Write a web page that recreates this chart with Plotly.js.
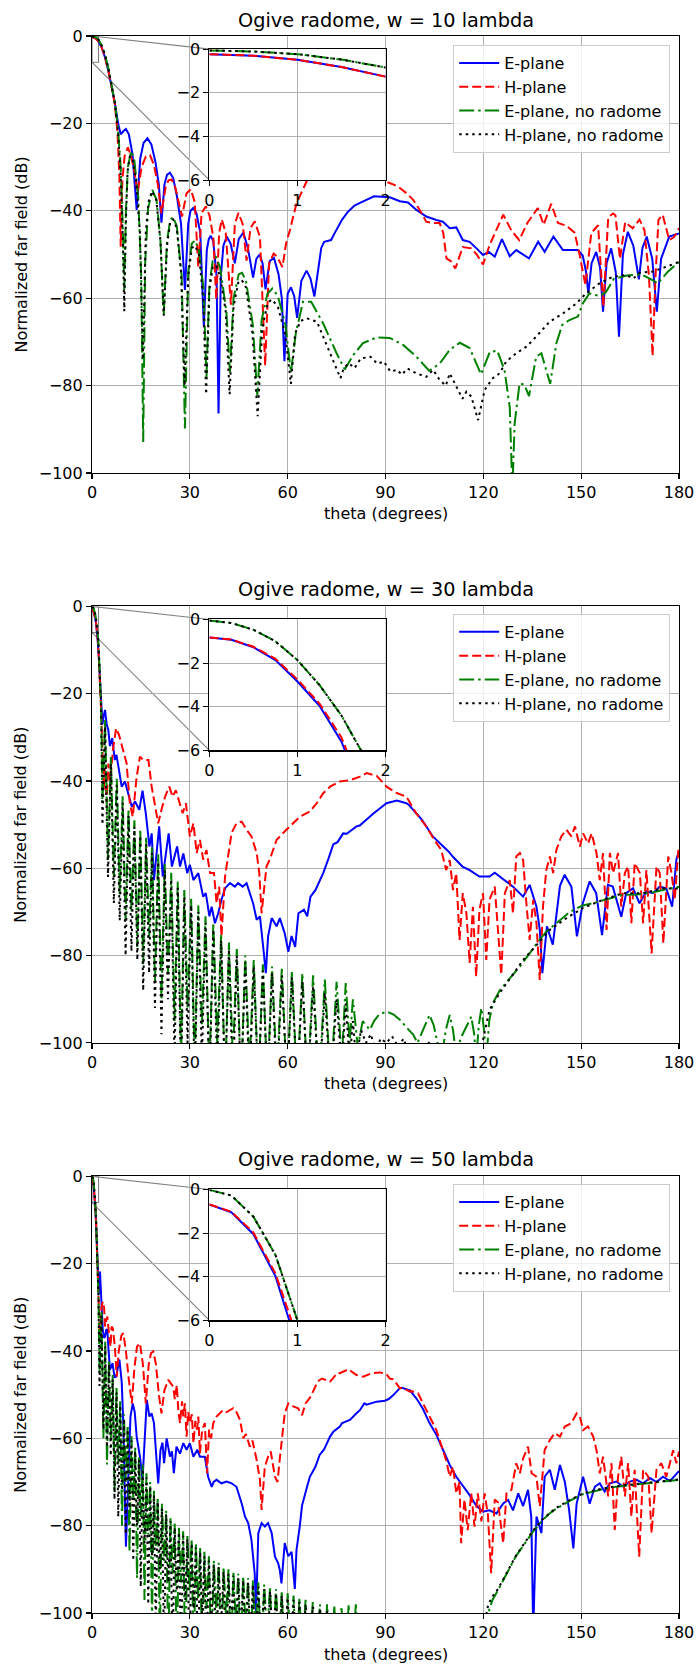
<!DOCTYPE html>
<html>
<head>
<meta charset="utf-8">
<script src="https://cdn.plot.ly/plotly-3.0.1.min.js"></script>
<style>html,body{margin:0;padding:0;background:#fff;}#chart{width:697px;height:1665px;}</style>
</head>
<body>
<div id="chart"></div>
<script>
// ---------------- DATA (theta in degrees, value in dB) ----------------
const thetaTicks = [0, 30, 60, 90, 120, 150, 180];
const dbTicks = [-100, -80, -60, -40, -20, 0];
const insetThetaTicks = [0, 1, 2];
const insetDbTicks = [-6, -4, -2, 0];
const seriesNames = ['E-plane', 'H-plane', 'E-plane, no radome', 'H-plane, no radome'];
const panelTitles = ['Ogive radome, w = 10 lambda', 'Ogive radome, w = 30 lambda', 'Ogive radome, w = 50 lambda'];

// ---- w = 10 lambda ----
const p1_E = [[0,-0.23],[0.5,-0.3],[1,-0.49],[1.5,-0.82],[2,-1.26],[3,-2.7],[4,-4.9],[5,-7.9],[6,-11.3],[7,-15.3],[8,-20],[8.8,-22.5],[9.6,-21.8],[10.4,-21.3],[11.3,-22.5],[12.4,-27],[13.7,-39.8],[14.8,-28],[15.8,-24.5],[17,-23.4],[18.2,-24.8],[19.5,-29],[20.5,-34],[21.3,-42.7],[22.2,-34],[23,-31.8],[23.9,-31.3],[24.9,-32.5],[26,-36.5],[27.3,-43],[28.5,-58.1],[29.5,-43],[30.2,-40],[31.05,-39.4],[32,-40.5],[33.2,-45],[34.3,-66.5],[35.2,-49],[35.8,-46.5],[36.4,-45.7],[37.2,-47],[38.2,-55],[38.8,-86.4],[39.5,-55],[40.3,-48],[41.3,-45.9],[42.5,-47.5],[43.8,-52],[45,-46.5],[46.4,-45],[47.8,-48.5],[49.4,-55.3],[50.4,-51],[51.4,-50],[52.3,-52],[53.2,-58],[54.5,-51.5],[55.8,-50.8],[57.2,-54.5],[58.2,-60],[59,-74.4],[60,-59],[61,-57.5],[62,-59.5],[62.9,-64.5],[64.2,-56],[65.8,-53.7],[67,-55.5],[68.2,-59.6],[69.5,-52],[70.3,-48.5],[71.2,-47.1],[72.3,-46.8],[73.3,-46.7],[74.5,-45],[76.7,-42],[78.5,-40.2],[80.5,-38.8],[82.2,-38.2],[84.2,-37.5],[86.5,-36.7],[88.8,-36.8],[91.3,-36.9],[94.4,-37.8],[96.9,-38.1],[99.5,-39.8],[102.5,-41.3],[105.6,-42.1],[107.6,-42.5],[109.7,-44],[111.7,-43.8],[113.7,-46.7],[115.8,-47.1],[117.9,-48.6],[119.9,-50.1],[121.7,-49.4],[123.5,-50.5],[125.7,-46.5],[128.1,-50.4],[130.1,-49],[132,-50],[134,-50.9],[136.8,-47.1],[138.8,-49.4],[141.5,-45.9],[144.4,-49],[147,-49],[149,-49],[150.5,-50.3],[151.5,-54],[152.2,-58.9],[153.2,-52],[154.6,-49.4],[155.8,-53],[156.7,-63.1],[157.8,-52],[159.2,-48.6],[160.6,-54],[161.6,-68.8],[162.8,-50],[164.3,-44.8],[166,-48],[167.7,-55.7],[168.8,-48.5],[170.1,-45.9],[171.8,-51],[173.2,-63.1],[174.5,-51],[177,-45.9],[179.6,-45.2],[180,-45.2]];
const p1_H = [[0,-0.23],[0.5,-0.3],[1,-0.49],[1.5,-0.82],[2,-1.26],[3,-2.7],[4,-4.9],[5,-7.9],[6,-11.3],[7,-15.5],[7.8,-22],[8.4,-32],[8.8,-48.2],[9.3,-33],[10,-27.5],[11,-25.5],[12,-27.5],[13,-31],[14,-35.8],[15.2,-30],[16.5,-27.6],[17.8,-27.3],[19,-29.5],[20.2,-34],[21.3,-40.6],[22.6,-34.5],[23.5,-33],[24.4,-32.8],[25.5,-34.5],[27.6,-41.3],[29,-36],[30.3,-35.1],[31.5,-38],[32.6,-52.9],[33.6,-40.5],[34.9,-39],[36,-41],[37.2,-46],[38.1,-60.3],[39,-45],[39.8,-42],[41,-45],[42.6,-61.5],[43.8,-43],[44.9,-40.5],[46.2,-43],[47.4,-51.4],[48.6,-44],[49.9,-42.4],[51.5,-46],[53.1,-75.4],[54.3,-52],[55.7,-49.8],[56.8,-50.5],[58.4,-52.9],[59.5,-47.5],[60.7,-44.4],[62.7,-38.3],[65.8,-33.3],[68,-30],[70,-29],[75,-28.5],[80,-29],[85,-30.5],[88,-32],[90.3,-33.4],[92.5,-34],[94.4,-34.8],[96.5,-36],[98.5,-37.5],[100.5,-39.8],[102.5,-42.5],[104.6,-42.8],[106.6,-42.8],[107.7,-45],[108.7,-50.9],[110,-51.5],[111.4,-53.2],[113.7,-48.3],[116.3,-48.6],[118,-50],[119.9,-52.3],[122,-47.7],[124,-44.3],[126.1,-40.9],[128.6,-44.5],[131,-46.7],[133.5,-42.8],[136.7,-39.4],[138.5,-43.2],[140.8,-38.4],[142.9,-42.8],[145.4,-43.4],[148,-45],[149.5,-50],[151.3,-57],[153.1,-45.1],[155.2,-43.3],[156.8,-62],[158.3,-41.5],[159.8,-40.6],[160.5,-41],[161.9,-51],[163.5,-42.6],[165.8,-44],[167.9,-42],[169.4,-44.4],[170.8,-55],[171.9,-73.2],[172.8,-55],[173.7,-42.1],[175,-40.9],[177,-46.7],[178.5,-46],[180,-44]];
const p1_En = [[0,-0.06],[0.5,-0.11],[1,-0.23],[1.5,-0.48],[2,-0.84],[3,-2.2],[4,-4.3],[5,-7.3],[6,-10.9],[7,-15.2],[8,-21.5],[8.8,-30],[9.5,-45],[9.9,-58],[10.4,-40],[11,-30],[12,-26.3],[13,-28.5],[14.2,-37],[15.1,-55],[15.7,-92.9],[16.3,-52],[17.2,-39.5],[18.5,-35.2],[19.8,-37.5],[21,-47],[22,-63.9],[23,-47],[24,-42],[24.9,-41.5],[26,-43.5],[27.5,-55],[28.5,-89.8],[29.5,-54],[30.6,-47.5],[31.6,-46.8],[32.8,-49],[34.2,-58],[35.1,-78],[36,-57],[37,-51.5],[38,-50.5],[39.3,-53],[41.2,-63],[42.3,-77],[43.4,-60],[45,-54.5],[46,-54.2],[47.2,-56],[49.3,-66],[50.7,-82.3],[52,-65],[53.8,-59],[55.3,-57.8],[57,-59.5],[59.3,-66],[61,-77],[62.5,-68],[64.7,-60.8],[67.2,-60.8],[70.9,-65.8],[75,-72.6],[77.5,-76.3],[80.1,-73],[83.1,-70.3],[87.2,-69],[91.3,-69.1],[95.4,-70.7],[99.5,-73.4],[103.4,-76.6],[106.6,-75],[109.7,-71.8],[112.8,-70.2],[115.8,-71.4],[119.3,-77.4],[122,-72.3],[124.3,-72],[126.5,-76.5],[128.1,-84.9],[128.9,-104],[129.6,-88.7],[131.1,-79.5],[132.6,-79.8],[134,-82.4],[136.2,-73.4],[137.8,-72.6],[140.5,-79.6],[142.4,-70.3],[144.2,-66.1],[146.4,-65],[149,-64.2],[150.5,-61.2],[152.5,-58.9],[155.6,-59.5],[157.5,-58.7],[160,-55.6],[164,-54.8],[168.5,-54.6],[171.5,-55.7],[173.5,-56.6],[176.5,-54],[180,-51.7]];
const p1_Hn = [[0,-0.06],[0.5,-0.11],[1,-0.23],[1.5,-0.48],[2,-0.84],[3,-2.2],[4,-4.3],[5,-7.3],[6,-10.9],[7,-15.3],[8,-22],[8.8,-32],[9.5,-48],[9.9,-63],[10.4,-42],[10.9,-31],[11.6,-27.5],[12.5,-28.5],[13.5,-33],[14.7,-45],[15.6,-74],[16.5,-45],[17.3,-38],[18.4,-35.5],[19.7,-37.5],[21,-47],[22,-64],[23,-48],[24,-42.5],[24.9,-42],[26,-44],[27.3,-54],[28.4,-80],[29.5,-55],[30.6,-48.5],[31.6,-48],[32.8,-50],[34.1,-60],[35,-82],[36,-58],[37,-53],[38,-52.4],[39.3,-55],[41,-63],[42.2,-82],[43.4,-62],[44.8,-56.5],[45.9,-55.8],[47.2,-57.5],[49.2,-68],[50.8,-87],[52.2,-67],[53.9,-61],[55.2,-60.3],[57,-62],[59.2,-68],[61,-79.6],[62.3,-68],[64,-65.2],[65.9,-64.6],[69,-65.4],[73.1,-72.6],[76.2,-78.3],[77.2,-76],[78.8,-74.9],[80.5,-76],[82.4,-73.8],[85.4,-73.4],[87.5,-75],[89.5,-74.5],[91.5,-76.8],[93.6,-76.4],[95,-77.5],[96.7,-76.1],[99.5,-77.2],[102.5,-78],[104.6,-76.4],[106.6,-78.7],[108.5,-80],[109.7,-77.2],[112.2,-81],[113.6,-83],[114.8,-81.4],[116.3,-82.5],[118.4,-87.9],[120.4,-81],[122.9,-78.3],[125,-77.2],[127,-74.5],[130.1,-72.6],[133.2,-71.1],[136.2,-68.8],[140.3,-65.4],[144.4,-63.5],[148.5,-61.2],[151.5,-58.9],[155.6,-56.6],[159.7,-55.1],[163.8,-54.7],[166,-55.5],[167.9,-54.2],[172,-53.9],[176.1,-52.8],[180,-51.7]];

// ---- w = 30 lambda ----
const p2_E = [[0,-0.82],[0.25,-0.93],[0.5,-1.27],[0.75,-1.86],[1,-2.84],[1.25,-3.95],[1.5,-5.6],[1.75,-7.8],[2,-10.6],[2.4,-16],[2.8,-22],[3.2,-27],[3.6,-25],[4.0,-23.7],[4.5,-27],[5,-28.3],[5.5,-32],[6.2,-30.2],[7,-35.2],[7.5,-34],[8.1,-36.7],[9.1,-41.3],[10.1,-40.1],[11.1,-42.8],[12.2,-45.9],[13.2,-44.7],[14.5,-46.6],[15.5,-42.2],[16.5,-47.4],[17.6,-55],[18.3,-52],[19,-62.7],[20.6,-50.4],[21.7,-61.9],[23.5,-52],[24.5,-59.6],[26.1,-55],[27,-59.6],[28,-56.6],[29.2,-61.1],[30,-59.2],[31.1,-62.7],[32.6,-61.1],[34.1,-66.5],[34.9,-65.7],[36,-71],[36.7,-68.8],[37.7,-72.6],[38.7,-70.3],[39.7,-67.2],[40.8,-64.6],[42.3,-63.4],[43.8,-64.2],[44.8,-63.4],[46.2,-64.2],[47.4,-63.4],[48.4,-65.7],[49.4,-68],[50.5,-71.8],[51.5,-71],[52.7,-79.5],[53.3,-84],[54,-75.6],[55.1,-71.4],[56.6,-73.3],[57.6,-71.4],[59.1,-74.9],[60.2,-79.1],[61.2,-75.5],[62.3,-78],[63.3,-70.3],[65,-69.5],[66,-71],[67,-66.5],[68.5,-65],[70.9,-61.1],[72.6,-57.6],[74,-54.5],[75.3,-54],[77,-52],[78.1,-52.1],[81.1,-50.4],[82.1,-50.2],[85.2,-48.2],[86.2,-47.5],[90.3,-45.1],[93.5,-44.5],[96.4,-45.1],[97.2,-45.5],[100.4,-48.2],[101.3,-49],[104.5,-52.7],[106,-53.7],[107.6,-55],[109.4,-56.2],[110.6,-57.3],[113.6,-59.6],[115.8,-60.4],[118.8,-61.9],[121.9,-61.9],[123.5,-61],[126.1,-62.5],[128.5,-63.8],[129.1,-64.2],[132.2,-66.5],[134.2,-63.8],[136.3,-68.8],[137.3,-74],[138.1,-84],[139.5,-73.3],[141.3,-77.5],[142.4,-70.3],[143.5,-64],[144.9,-61.5],[147,-64.2],[148.7,-75.6],[150.5,-68],[152.6,-63],[154.6,-65.7],[156.4,-75.3],[158.2,-63.8],[159.7,-64.2],[162.3,-71.1],[163.8,-65.7],[165.9,-64.6],[167.9,-68],[170,-65.3],[172,-65.7],[174.1,-64.2],[176.1,-64.6],[177.9,-68.8],[179.2,-58],[180,-56]];
const p2_H = [[0,-0.82],[0.25,-0.92],[0.5,-1.25],[0.75,-1.8],[1,-2.75],[1.25,-3.85],[1.5,-5.4],[1.75,-7.6],[2,-10.5],[2.4,-16.5],[2.8,-24],[3.2,-33],[3.6,-42],[4.0,-37],[4.5,-45],[5,-36],[5.6,-40],[6.4,-33],[7.4,-27.9],[8.3,-29.5],[9.6,-32.9],[10.6,-35.9],[11.6,-45.1],[12.5,-48.2],[13.7,-39],[14.7,-34.4],[15.7,-35.2],[17.3,-35.2],[18.3,-41.3],[19.3,-45.9],[20.3,-49.7],[21.3,-46.6],[22.4,-43.6],[23.7,-41.3],[24.7,-43.6],[25.7,-42.1],[26.8,-44.7],[27.8,-47.4],[28.8,-45.1],[30,-52.7],[31.1,-49.7],[32.1,-56.5],[33.1,-53.5],[34.1,-58],[35.1,-55.8],[36.2,-61.1],[37.4,-61.1],[38.2,-68],[39,-64.2],[39.7,-75.6],[40.8,-61.9],[41.8,-56.5],[42.8,-51.9],[44.3,-49.7],[45.9,-49.3],[47.4,-51.2],[48.9,-52.7],[50.5,-56.5],[51.3,-61.1],[52,-70.3],[52.7,-65.7],[53.5,-59.6],[54.5,-58],[55.6,-55.8],[56.6,-53.5],[58.6,-51.9],[60.7,-50.4],[63.7,-48.2],[66.8,-47],[68.9,-45.1],[70.9,-42.8],[73,-41.3],[76,-40.1],[79.1,-39.8],[82.2,-39],[84.2,-38.2],[87.3,-38.8],[90.3,-41.3],[93.3,-42.7],[96.4,-43.6],[99.4,-47.4],[102.5,-50.4],[105,-53.5],[107.1,-55.8],[108.6,-60.4],[109.7,-58.1],[110.7,-65],[111.7,-61.1],[112.7,-76.4],[113.7,-65.7],[114.8,-70.3],[115.8,-81.7],[116.8,-68.8],[117.8,-84.8],[118.8,-69.5],[119.9,-65.7],[120.9,-81],[121.9,-67.2],[123.5,-64.2],[124.5,-74.9],[125.5,-84.4],[126.6,-65.7],[128.1,-62.7],[129.1,-70.3],[130.1,-57.3],[131.2,-56.5],[132.2,-58.1],[133.2,-68],[134.2,-76.4],[135.3,-67.2],[136.3,-72.6],[137.3,-85.6],[138.3,-68.8],[139.3,-60.4],[140.4,-57.3],[141.4,-61.1],[142.4,-55.8],[143.9,-52.7],[145.5,-51.2],[147,-52.7],[148.1,-50.4],[149.6,-55],[150.6,-52],[152.1,-54.3],[153.2,-52],[154.7,-56.5],[155.7,-62.7],[156.7,-56.5],[157.8,-74.1],[158.8,-56.5],[159.8,-61.1],[161.3,-56.5],[162.3,-68.8],[163.4,-61.1],[164.4,-59.6],[165.4,-72.6],[166.4,-58.8],[168,-61.1],[169,-72.6],[170,-60.4],[171.6,-79.5],[173.1,-59.6],[174.1,-61.1],[175.2,-77.2],[176.7,-57.3],[177.7,-61.1],[178.7,-67.2],[179.8,-55.8],[180,-56]];
const p2_En = [[0,-0.05],[0.25,-0.16],[0.5,-0.47],[0.75,-1.0],[1,-1.86],[1.25,-3.0],[1.5,-4.4],[1.75,-6.2],[2,-8.7],[2.4,-14.5],[2.8,-23],[3.2,-45],[4.0,-26],[4.9,-58],[5.8,-34.5],[6.7,-62],[7.6,-39.5],[8.5,-66],[9.4,-43.5],[10.3,-72],[11.2,-46.5],[12.1,-70],[13.0,-49],[13.9,-78],[14.8,-51],[15.7,-82],[16.6,-53],[17.5,-76],[18.4,-55],[19.3,-86],[20.3,-56.8],[21.3,-90],[22.3,-59],[23.3,-84],[24.3,-61],[25.3,-95],[26.3,-63],[27.3,-104],[28.3,-65],[29.3,-92],[30.4,-67],[31.5,-106],[32.6,-68.5],[33.7,-96],[34.8,-71],[36.0,-108],[37.2,-72.5],[38.4,-100],[39.6,-75],[40.8,-110],[42.0,-77],[43.2,-104],[44.4,-78.5],[45.7,-110],[47.0,-80],[48.3,-106],[49.6,-81],[51.0,-110],[52.4,-82],[53.8,-110],[55.2,-82.5],[56.7,-108],[58.2,-83],[59.8,-110],[61.3,-83.5],[62.9,-110],[64.5,-84],[66.1,-110],[67.8,-84.5],[69.6,-110],[71.4,-85.5],[73.2,-110],[75.0,-86],[76.6,-104],[77.8,-86.3],[79.0,-100],[80.0,-90],[81.5,-101],[83,-95],[85.2,-97],[86.5,-95],[88,-93.5],[90.3,-92.8],[92.5,-93.5],[94.4,-94.7],[96.5,-96.5],[98.5,-98.1],[99.8,-100],[101.5,-97],[103.5,-93.6],[104.8,-96],[105.8,-100],[107.1,-104],[108.5,-97],[109.7,-93.6],[110.7,-97],[111.7,-103],[113,-99],[114.8,-96.2],[116.3,-94],[117.2,-98],[117.8,-104],[118.6,-96],[119.4,-92],[120.2,-97],[120.9,-104],[121.8,-95],[122.9,-90.9],[125,-88],[128.1,-85.2],[131.2,-82.5],[134.2,-79.5],[136.8,-76.8],[139.3,-74.5],[142.4,-72.6],[146.5,-70],[150.5,-68.5],[154.6,-67.8],[158.7,-66.9],[162.8,-66.1],[166.9,-66],[170.9,-65.7],[175,-65],[180,-64.2]];
const p2_Hn = [[0,-0.05],[0.25,-0.16],[0.5,-0.47],[0.75,-1.0],[1,-1.86],[1.25,-3.0],[1.5,-4.4],[1.75,-6.2],[2,-8.7],[2.4,-14.5],[2.8,-23],[3.2,-50],[4.0,-27.5],[4.9,-62],[5.8,-36],[6.7,-68],[7.6,-41],[8.5,-72],[9.4,-45],[10.3,-80],[11.2,-48],[12.1,-79],[13.0,-50.5],[13.9,-81],[14.8,-52.5],[15.7,-88],[16.6,-54.5],[17.5,-84],[18.4,-56.5],[19.3,-92],[20.3,-58.5],[21.3,-98],[22.3,-60.5],[23.3,-90],[24.3,-62.5],[25.3,-104],[26.3,-64.5],[27.3,-110],[28.3,-66.5],[29.3,-100],[30.4,-68.5],[31.5,-110],[32.6,-70],[33.7,-104],[34.8,-72.5],[36.0,-110],[37.2,-74],[38.4,-106],[39.6,-76.5],[40.8,-110],[42.0,-78.5],[43.2,-110],[44.4,-80],[45.7,-110],[47.0,-81.5],[48.3,-110],[49.6,-82.5],[51.0,-110],[52.4,-83.5],[53.8,-110],[55.2,-84],[56.7,-110],[58.2,-84.5],[59.8,-110],[61.3,-85],[62.9,-110],[64.5,-86],[66.1,-110],[67.8,-87],[69.6,-110],[71.4,-88.5],[73.2,-110],[75.0,-90],[76.6,-106],[77.8,-91],[79.0,-104],[80.0,-95],[81,-104],[82.5,-97],[84,-100],[85.5,-98],[87,-102],[88.5,-99],[90.3,-100],[92,-98.5],[94,-101],[95.5,-99],[97,-102],[99,-100.5],[101,-104],[103,-99.5],[105,-103],[107,-100],[109,-104],[111,-101],[113,-105],[115,-102],[117,-104],[118.5,-101],[119.9,-99.3],[121.9,-92.4],[125,-88.6],[128.1,-85.2],[132.2,-81],[136.3,-77.6],[140.4,-74.1],[145.5,-71.4],[150.5,-69.1],[156.7,-67.2],[162.8,-65.7],[168.9,-65.7],[175,-64.6],[180,-64.6]];

// ---- w = 50 lambda ----
const p3_E = [[0,-0.69],[0.25,-1.05],[0.5,-2.05],[0.75,-3.97],[1,-7.2],[1.25,-11],[1.5,-16],[1.8,-23],[2.1,-27],[2.45,-21.8],[2.8,-27],[3.3,-35.2],[3.7,-37],[4,-36.7],[4.4,-35],[4.7,-35.2],[5.1,-40],[5.5,-44.3],[6.3,-42.8],[6.9,-46],[7.4,-45.9],[8.4,-42],[9.1,-47],[9.6,-56.5],[10.4,-84.8],[11.1,-67.2],[11.8,-55],[12.5,-52],[13.1,-54],[13.7,-59.6],[14.7,-64.2],[15.5,-69.5],[16.2,-58.1],[16.8,-51.2],[17.6,-55],[18.3,-54.3],[19,-56.5],[19.8,-64.2],[20.3,-70.3],[21,-62.7],[21.6,-61],[22.1,-65.7],[22.9,-60],[23.9,-64.2],[24.5,-63],[25.1,-68],[25.9,-61.9],[27,-63.5],[28,-61.1],[29,-62.6],[30,-61.1],[31.1,-64.2],[32.3,-62.6],[33.1,-64.2],[34.6,-64.2],[35.6,-68.8],[36.7,-71.1],[37.3,-70],[38.2,-69.5],[39.7,-70.3],[41.3,-69.9],[42.8,-70.3],[44.3,-71.1],[45.9,-74.9],[46.9,-77.9],[47.9,-79.4],[48.9,-83.3],[49.9,-91],[50.3,-100],[51,-81.7],[52,-79.4],[53,-80.2],[54,-79.4],[55.1,-81.7],[56.1,-87.1],[57.1,-88.6],[57.6,-90.2],[58.1,-93.2],[59.1,-84],[60.2,-87],[61.2,-86],[62.2,-94.5],[62.7,-85.6],[63.7,-80.2],[64.4,-75.4],[65.8,-71.5],[66.8,-68.8],[68.5,-66.5],[69.8,-63.8],[71.2,-62.5],[73,-59.6],[74,-58.5],[76,-57.3],[76.7,-56.5],[79.1,-55.8],[80.8,-54.5],[82.2,-53.5],[83.5,-52],[84.2,-52.3],[87.3,-51.6],[89.8,-51.4],[91,-51],[92.4,-50.1],[94.4,-48.5],[95,-48.4],[97.5,-49],[99.6,-51],[101.5,-53.3],[103.5,-56.5],[105.6,-59.2],[107.6,-62.7],[109.7,-66.1],[111.7,-68.8],[113.7,-70.8],[115.8,-73],[117.8,-75.4],[119.9,-76.8],[121.9,-76.5],[124,-77.2],[126.1,-74.9],[127.6,-74.1],[129.1,-76.5],[130.7,-72.6],[132.2,-75.5],[133.7,-71.8],[134.7,-78],[135.3,-104],[136.3,-77.9],[137.8,-81.7],[138.8,-68.8],[140.4,-67.2],[141.9,-71.8],[143.5,-66.1],[145,-70],[146.3,-76.4],[147.6,-85.2],[148.6,-75],[150.6,-68.8],[152.6,-75],[154.2,-71.1],[155.7,-70.3],[157.2,-72.2],[158.8,-70.3],[160.8,-69.9],[162.9,-71.1],[164.9,-69.9],[167,-69.5],[169,-70.3],[171.1,-69.1],[173.1,-70],[175.1,-68.8],[177.2,-69.8],[179.2,-68],[180,-67.5]];
const p3_H = [[0,-0.69],[0.25,-1.02],[0.5,-1.98],[0.75,-3.85],[1,-6.8],[1.25,-10.5],[1.5,-16],[1.8,-22],[2.1,-30],[2.45,-38],[2.9,-30],[3.3,-28.7],[3.7,-30],[4,-34.4],[4.4,-33],[4.7,-32.1],[5.3,-36.7],[5.7,-39],[6,-34.4],[6.4,-34.8],[7,-39],[7.6,-45.9],[8.2,-40],[9,-36.5],[9.6,-35.9],[10.4,-40],[11.2,-46],[12.2,-52],[13,-44],[13.8,-39],[14.7,-38.2],[15.6,-43],[16.5,-52],[17.4,-43],[18.1,-40.5],[18.8,-40.1],[19.6,-43],[20.5,-50],[21.3,-54.3],[22.2,-49],[23.4,-46.6],[24.9,-48.2],[25.4,-51],[26,-47.8],[26.5,-54],[27,-56.5],[27.6,-51.5],[28,-55],[28.5,-52],[29,-59.6],[29.5,-54],[30,-56.5],[30.6,-54.5],[31.1,-61.1],[31.7,-56],[32.2,-58],[32.6,-55],[33.1,-63.4],[33.8,-58],[34.6,-56.5],[35.3,-68],[35.9,-58],[36.5,-60],[37.2,-56.5],[38.2,-55],[39.2,-54.3],[40.2,-53.5],[41.3,-54],[42.3,-53.5],[43.3,-53.1],[44.3,-54],[45.4,-55.8],[46.4,-60],[47.2,-59],[48.4,-61.9],[49.2,-60.5],[50.5,-65],[51.5,-69.5],[52,-76.4],[53,-66.5],[54,-64.2],[54.8,-63],[56.1,-68.8],[56.9,-70],[57.4,-66],[58.1,-61.1],[59.1,-54.3],[60.2,-52],[61.7,-52.7],[63.2,-53.1],[64.4,-54.7],[65.5,-52],[67.1,-50.4],[69.2,-47],[70.5,-46.3],[73,-47],[75.3,-45],[76,-45.1],[78.6,-44.2],[81.1,-45.5],[83.2,-45.9],[85.7,-45.1],[88.3,-44.9],[90.3,-45.3],[91.3,-46.3],[92.4,-46.5],[94.4,-48.5],[95.1,-48.4],[97.5,-49.3],[98,-49.2],[100,-49.7],[101.5,-52],[103.5,-55],[105.6,-58.1],[107.6,-62.7],[108.6,-65],[109.7,-68.8],[110.7,-66.5],[111.7,-72.6],[112.7,-70],[113.2,-84],[114.2,-74],[115.2,-81],[116.3,-72.6],[117.3,-80.2],[118.3,-72.6],[119.4,-79],[120.4,-72.6],[121.4,-77.5],[122.4,-90.9],[123.5,-74],[124.5,-74.7],[126.1,-84],[127.1,-72.6],[128.6,-71.8],[130.1,-65.7],[131.2,-68],[132.2,-64.6],[133.7,-61.9],[134.8,-68],[136.3,-68.8],[137.3,-75.6],[138.8,-62.7],[140.4,-60.4],[141.9,-58.8],[143.5,-59.6],[145,-57.3],[147,-56.5],[148.6,-54.3],[149.6,-55],[150.6,-58.1],[152.1,-57.3],[153.7,-59.6],[154.7,-62.7],[155.7,-68],[156.7,-64.2],[158.3,-73.3],[159.3,-65.7],[160.3,-81],[161.3,-68.8],[162.3,-64.2],[163.4,-73.3],[164.4,-65.7],[165.4,-77.9],[166.4,-67.2],[167.8,-87.1],[169,-67.2],[170.6,-68.8],[171.6,-81.7],[173.1,-67.2],[174.6,-65.7],[176.1,-68.8],[177.2,-65.7],[178.2,-62.7],[179.2,-65.7],[180,-63]];
const p3_En = [[0,-0.02],[0.25,-0.28],[0.5,-1.25],[0.75,-3.0],[1,-6.0],[1.25,-10],[1.5,-15],[1.75,-21],[2.0,-28],[2.3,-45],[2.9,-31],[3.5,-60],[4.05,-37.5],[4.6,-66],[5.2,-42],[5.75,-60],[6.35,-45.5],[6.9,-72],[7.5,-48.5],[8.05,-66],[8.65,-51.5],[9.2,-80],[9.8,-54.5],[10.35,-70],[10.95,-57],[11.5,-86],[12.1,-59.5],[12.65,-74],[13.25,-62],[13.8,-92],[14.4,-64],[14.95,-78],[15.55,-66],[16.1,-97],[16.7,-68],[17.25,-82],[17.85,-70],[18.4,-102],[19.0,-72],[19.55,-85],[20.15,-73.5],[20.8,-106],[21.45,-75],[22.1,-88],[22.75,-76.5],[23.4,-110],[24.05,-78],[24.7,-91],[25.35,-79.5],[26.0,-112],[26.65,-80.5],[27.3,-93],[27.95,-81.3],[28.6,-112],[29.25,-82],[29.9,-95],[30.55,-83],[31.2,-112],[31.85,-84],[32.5,-97],[33.15,-85],[33.8,-112],[34.45,-86],[35.1,-99],[35.85,-87],[36.6,-112],[37.35,-88],[38.1,-100],[38.85,-88.5],[39.6,-112],[40.35,-89.5],[41.1,-101],[41.85,-90],[42.6,-112],[43.35,-90.5],[44.1,-102],[44.85,-91],[45.6,-112],[46.35,-91.5],[47.1,-103],[47.85,-92],[48.6,-112],[49.35,-92.5],[50.1,-104],[51.0,-93],[51.9,-112],[52.8,-93.5],[53.7,-105],[54.6,-94],[55.5,-112],[56.4,-94.5],[57.3,-106],[58.2,-95],[59.1,-112],[60.0,-95.5],[60.9,-107],[61.8,-96],[62.7,-112],[63.6,-96.5],[64.5,-108],[65.5,-97],[66.6,-112],[67.7,-97.5],[68.8,-110],[69.9,-98],[71.0,-112],[72.1,-98],[73.2,-112],[74.3,-98.5],[75.4,-112],[76.5,-98.5],[77.6,-112],[78.7,-98],[79.8,-112],[80.9,-98],[82.0,-112],[83,-130],[119,-130],[120.5,-104],[121.7,-99.6],[122.8,-97],[124.5,-94.8],[127.2,-91],[129.9,-87.1],[132.6,-84.2],[135.4,-81.2],[138.1,-78.8],[140,-77.4],[142.2,-76.2],[146.3,-74.4],[150.4,-72.8],[154.5,-72],[158.6,-71.3],[162.7,-70.9],[168.1,-70.5],[173.6,-70],[180,-69.5]];
const p3_Hn = [[0,-0.02],[0.25,-0.28],[0.5,-1.25],[0.75,-3.0],[1,-6.0],[1.25,-10],[1.5,-15],[1.75,-21],[2.0,-28],[2.3,-48],[2.9,-32],[3.5,-58],[4.05,-39],[4.6,-62],[5.2,-43],[5.75,-64],[6.35,-46.5],[6.9,-74],[7.5,-49.5],[8.05,-78],[8.65,-52.5],[9.2,-72],[9.8,-55.5],[10.35,-82],[10.95,-58],[11.5,-76],[12.1,-60.5],[12.65,-88],[13.25,-63],[13.8,-80],[14.4,-65],[14.95,-94],[15.55,-67],[16.1,-84],[16.7,-69],[17.25,-98],[17.85,-71],[18.4,-87],[19.0,-73],[19.55,-104],[20.15,-74.5],[20.8,-90],[21.45,-76],[22.1,-108],[22.75,-77.5],[23.4,-93],[24.05,-79],[24.7,-110],[25.35,-80.5],[26.0,-95],[26.65,-81.5],[27.3,-112],[27.95,-82.3],[28.6,-97],[29.25,-83],[29.9,-112],[30.55,-84],[31.2,-99],[31.85,-85],[32.5,-112],[33.15,-86],[33.8,-101],[34.45,-87],[35.1,-112],[35.85,-88],[36.6,-102],[37.35,-89],[38.1,-112],[38.85,-89.5],[39.6,-103],[40.35,-90.5],[41.1,-112],[41.85,-91],[42.6,-104],[43.35,-91.5],[44.1,-112],[44.85,-92],[45.6,-105],[46.35,-92.5],[47.1,-112],[47.85,-93],[48.6,-106],[49.35,-93.5],[50.1,-112],[51.0,-94],[51.9,-107],[52.8,-94.5],[53.7,-112],[54.6,-95],[55.5,-108],[56.4,-95.5],[57.3,-112],[58.2,-96],[59.1,-109],[60.0,-96.5],[60.9,-112],[61.8,-97],[62.7,-110],[63.6,-97.5],[64.5,-112],[65.5,-98],[66.6,-112],[67.7,-98.5],[68.8,-112],[69.9,-99],[71.0,-112],[72.1,-99.5],[73.2,-115],[74,-130],[119,-130],[120.8,-101],[121.5,-98],[123,-96],[124.5,-94.5],[127.2,-90.8],[129.9,-87],[132.6,-84],[135.4,-81],[138.1,-78.6],[142.2,-76],[146.3,-74.2],[150.4,-72.7],[154.5,-71.8],[158.6,-71.2],[162.7,-70.8],[168.1,-70.4],[173.6,-69.9],[180,-69.4]];

const panelSeries = [[p1_E, p1_H, p1_En, p1_Hn], [p2_E, p2_H, p2_En, p2_Hn], [p3_E, p3_H, p3_En, p3_Hn]];

// ---------------- STYLE / LAYOUT ----------------
const FONT = 'DejaVu Sans, Liberation Sans, sans-serif';
const styles = [
  {color: '#0000ff', dash: 'solid'},
  {color: '#ff0000', dash: '9px,4px'},
  {color: '#008000', dash: '15px,4px,2.5px,4px'},
  {color: '#000000', dash: '2.5px,4px'}
];
// plot area: l=92, r=17.5, t=36, b=52 -> 587.5 x 1577
const mainDomains = [[0.7229, 1.0], [0.3615, 0.6383], [0.0, 0.2769]];
const insetX = [0.2, 0.5];
const insetFrac = [0.67, 0.97];
const legendTops = [0.9943, 0.6335, 0.2720];
const titleY = [1.0099, 0.6489, 0.2873];
const xTitleY = [0.6972, 0.3357, -0.0260];

const traces = [];
const layout = {
  width: 697, height: 1665,
  margin: {l: 92, r: 17.5, t: 36, b: 52, pad: 0},
  paper_bgcolor: '#ffffff', plot_bgcolor: '#ffffff',
  font: {family: FONT, size: 16, color: '#000000'},
  showlegend: true,
  annotations: [], shapes: []
};

function axisCommon() {
  return {
    showline: true, mirror: true, linecolor: '#000000', linewidth: 1.1,
    ticks: 'outside', ticklen: 5, tickwidth: 1.1, tickcolor: '#000000',
    showgrid: true, gridcolor: '#b0b0b0', gridwidth: 1,
    zeroline: false, tickfont: {family: FONT, size: 16, color: '#000000'},
    fixedrange: true
  };
}

for (let p = 0; p < 3; p++) {
  const mi = 2 * p + 1, ii = 2 * p + 2;
  const mx = 'x' + (mi === 1 ? '' : mi), my = 'y' + (mi === 1 ? '' : mi);
  const ix = 'x' + ii, iy = 'y' + ii;
  const lgName = p === 0 ? 'legend' : 'legend' + (p + 1);
  const d = mainDomains[p];
  const h = d[1] - d[0];

  panelSeries[p].forEach((s, k) => {
    traces.push({
      type: 'scatter', mode: 'lines', x: s.map(v => v[0]), y: s.map(v => v[1]), xaxis: mx, yaxis: my,
      name: seriesNames[k], legend: lgName, showlegend: true,
      line: {color: styles[k].color, width: 2, dash: styles[k].dash}, hoverinfo: 'skip'
    });
  });
  panelSeries[p].forEach((s, k) => {
    traces.push({
      type: 'scatter', mode: 'lines', x: s.map(v => v[0]), y: s.map(v => v[1]), xaxis: ix, yaxis: iy,
      name: seriesNames[k], showlegend: false,
      line: {color: styles[k].color, width: 2, dash: styles[k].dash}, hoverinfo: 'skip'
    });
  });

  const mxKey = 'xaxis' + (mi === 1 ? '' : mi), myKey = 'yaxis' + (mi === 1 ? '' : mi);
  layout[mxKey] = Object.assign(axisCommon(), {domain: [0, 1], anchor: my, range: [0, 180], tickmode: 'array', tickvals: thetaTicks});
  layout[myKey] = Object.assign(axisCommon(), {domain: d, anchor: mx, range: [-100, 0], tickmode: 'array', tickvals: dbTicks});
  layout['xaxis' + ii] = Object.assign(axisCommon(), {domain: insetX, anchor: iy, range: [0, 2], tickmode: 'array', tickvals: insetThetaTicks});
  layout['yaxis' + ii] = Object.assign(axisCommon(), {domain: [d[0] + h * insetFrac[0], d[0] + h * insetFrac[1]], anchor: ix, range: [-6, 0], tickmode: 'array', tickvals: insetDbTicks});

  layout[lgName] = {
    x: 0.985, xanchor: 'right', y: legendTops[p], yanchor: 'top',
    bgcolor: 'rgba(255,255,255,0.8)', bordercolor: '#cccccc', borderwidth: 1,
    font: {family: FONT, size: 16, color: '#000000'}, traceorder: 'normal', itemwidth: 40
  };

  const gray = {color: '#808080', width: 1.1};
  const cx = insetX[0] * 180, cyTop = -100 + insetFrac[1] * 100, cyBot = -100 + insetFrac[0] * 100;
  layout.shapes.push({type: 'rect', xref: mx, yref: my, x0: 0, x1: 2, y0: -6, y1: 0, line: gray, layer: 'below'});
  layout.shapes.push({type: 'line', xref: mx, yref: my, x0: 0, y0: 0, x1: cx, y1: cyTop, line: gray, layer: 'below'});
  layout.shapes.push({type: 'line', xref: mx, yref: my, x0: 0, y0: -6, x1: cx, y1: cyBot, line: gray, layer: 'below'});

  layout.annotations.push({text: panelTitles[p], xref: 'paper', yref: 'paper', x: 0.5, y: titleY[p], xanchor: 'center', yanchor: 'middle', showarrow: false, font: {family: FONT, size: 19.3, color: '#000000'}});
  layout.annotations.push({text: 'theta (degrees)', xref: 'paper', yref: 'paper', x: 0.5, y: xTitleY[p], xanchor: 'center', yanchor: 'middle', showarrow: false, font: {family: FONT, size: 16, color: '#000000'}});
  layout.annotations.push({text: 'Normalized far field (dB)', xref: 'paper', yref: 'paper', x: -0.1209, y: (d[0] + d[1]) / 2, xanchor: 'center', yanchor: 'middle', textangle: -90, showarrow: false, font: {family: FONT, size: 16, color: '#000000'}});
}

Plotly.newPlot('chart', traces, layout, {staticPlot: true, displayModeBar: false});
</script>
</body>
</html>
